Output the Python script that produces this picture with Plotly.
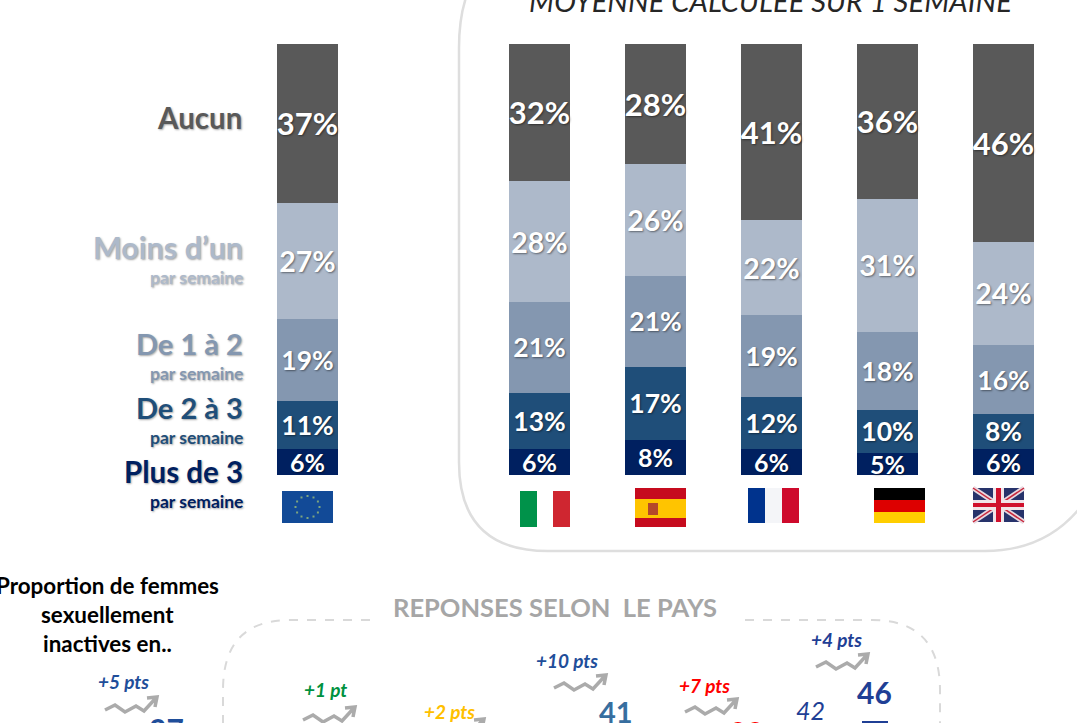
import math
import plotly.graph_objects as go

W, H = 1077, 723

categories = ["UE", " ", "Italie", "Espagne", "France", "Allemagne", "Royaume-Uni"]
bar_categories = ["UE", "Italie", "Espagne", "France", "Allemagne", "Royaume-Uni"]
plus_de_3 = [6, 6, 8, 6, 5, 6]
de_2_a_3 = [11, 13, 17, 12, 10, 8]
de_1_a_2 = [19, 21, 21, 19, 18, 16]
moins_dun = [27, 28, 26, 22, 31, 24]
aucun = [37, 32, 28, 41, 36, 46]

series = [
    ("Plus de 3", plus_de_3, "#002060", 25),
    ("De 2 à 3", de_2_a_3, "#1F4E79", 26.5),
    ("De 1 à 2", de_1_a_2, "#8497B0", 26.5),
    ("Moins d'un", moins_dun, "#ADB9CA", 28.5),
    ("Aucun", aucun, "#595959", 31),
]

SHADOW = "1px 1px 2px rgba(0,0,0,0.45)"
FONT = "Lato"

fig = go.Figure()
for name, vals, color, size in series:
    fig.add_trace(go.Bar(
        name=name, x=bar_categories, y=vals,
        marker=dict(color=color, line=dict(width=0)),
        text=[f"{v}%" for v in vals],
        textposition="inside", insidetextanchor="middle", textangle=0,
        constraintext="none",
        textfont=dict(family=FONT, size=size, color="white", weight="bold", shadow=SHADOW),
        hoverinfo="skip",
    ))


def px(x):
    return x / W


def py(y):
    return 1 - y / H


annotations = []


def label(text, x, y, size, color, bold=True, italic=False, anchor="center", shadow=None):
    annotations.append(dict(
        text=text, x=px(x), y=py(y), xref="paper", yref="paper",
        xanchor=anchor, yanchor="middle", showarrow=False,
        align=anchor if anchor != "center" else "center",
        font=dict(family=FONT, size=size, color=color,
                  weight="bold" if bold else "normal",
                  style="italic" if italic else "normal",
                  shadow=shadow or "none"),
    ))


shapes = []


def path(d, color, width=2, dash="solid"):
    shapes.append(dict(type="path", path=d, xref="paper", yref="paper",
                       line=dict(color=color, width=width, dash=dash), layer="below"))


def fmt(cmds):
    out = []
    for c in cmds:
        if isinstance(c, str):
            out.append(c)
        else:
            out.append(f"{px(c[0]):.5f},{py(c[1]):.5f}")
    return " ".join(out)


def rect(x0, y0, x1, y1, color):
    shapes.append(dict(type="rect", xref="paper", yref="paper",
                       x0=px(x0), x1=px(x1), y0=py(y1), y1=py(y0),
                       fillcolor=color, line=dict(width=0), layer="above"))


def seg(x0, y0, x1, y1, color, width):
    shapes.append(dict(type="line", xref="paper", yref="paper",
                       x0=px(x0), x1=px(x1), y0=py(y0), y1=py(y1),
                       line=dict(color=color, width=width), layer="above"))


# Rounded panels
path(fmt(["M", (468, -8), "Q", (459, 15), (459, 48), "L", (459, 462), "Q", (459, 551), (548, 551),
          "L", (985, 551), "Q", (1052, 551), (1088, 497)]), "#DEDEDE", 2.5)
path(fmt(["M", (370, 620), "L", (290, 620), "Q", (223, 620), (223, 690), "L", (223, 735)]),
     "#D9D9D9", 2, "dash")
path(fmt(["M", (745, 620), "L", (872, 620), "Q", (940, 620), (940, 690), "L", (940, 735)]),
     "#D9D9D9", 2, "dash")

# Left legend labels
LS = "1px 1px 2px rgba(0,0,0,0.35)"
label("Aucun", 244, 118, 29.5, "#595959", anchor="right", shadow=LS)
label("Moins d’un", 245, 247, 30.5, "#ADB9CA", anchor="right", shadow=LS)
label("par semaine", 245, 277, 17.5, "#ADB9CA", anchor="right", shadow=LS)
label("De 1 à 2", 245, 343, 29, "#8497B0", anchor="right", shadow=LS)
label("par semaine", 245, 373, 17.5, "#8497B0", anchor="right", shadow=LS)
label("De 2 à 3", 245, 407, 29, "#1F4E79", anchor="right", shadow=LS)
label("par semaine", 245, 437, 17.5, "#1F4E79", anchor="right", shadow=LS)
label("Plus de 3", 245, 471, 29.5, "#002060", anchor="right", shadow=LS)
label("par semaine", 245, 501, 17.5, "#002060", anchor="right", shadow=LS)

# Panel title
label("MOYENNE CALCULEE SUR 1 SEMAINE", 770, 0, 29.2, "#262626", bold=False, italic=True)

# Lower section texts
label("Proportion de femmes", 107, 585, 22.4, "#000000")
label("sexuellement", 107, 614, 22.4, "#000000")
label("inactives en..", 107, 643, 22.4, "#000000")
label("REPONSES SELON  LE PAYS", 555, 607, 25.5, "#A6A6A6")

BLUE = "#1F4E9A"
trend_labels = [("+5 pts", 123, 681, BLUE), ("+1 pt", 325, 689, "#00923F"), ("+2 pts", 449, 711, "#FFC000"),
                ("+10 pts", 567, 660, BLUE), ("+7 pts", 704, 685, "#FF0000"), ("+4 pts", 836, 639, "#1F3F95")]
for t, x, y, c in trend_labels:
    label(t, x, y, 19, c, italic=True)

label("27", 166, 729, 30, "#1F4E9A")
label("41", 616, 711, 29, "#376E9F")
label("46", 874, 692, 30, "#1F3F95")
label("42", 810, 710, 25, "#1F3F95", bold=False, italic=True)
label("38", 746, 732, 30, "#FF0000")
rect(862, 721, 888, 730, "#1F3F95")


# Trend arrows
def arrow(ox, oy):
    seg_pts = [(0, 0), (10, -5), (20, 2), (31, -4), (39, 1), (50, -11)]
    d = ["M", (ox, oy)] + [c for p in seg_pts[1:] for c in ("L", (ox + p[0], oy + p[1]))]
    d += ["M", (ox + 42, oy - 12), "L", (ox + 52, oy - 13), "L", (ox + 50, oy - 3)]
    shapes.append(dict(type="path", path=fmt(d), xref="paper", yref="paper",
                       line=dict(color="#ABABAB", width=3.5), layer="above"))


for ox, oy in [(105, 710), (303, 720), (554, 688), (685, 712), (816, 667), (432, 732)]:
    arrow(ox, oy)

# Flags
rect(282, 491, 333, 523, "#124A97")
for k in range(12):
    a = 2 * math.pi * k / 12
    cx, cy = 307.5 + 12 * math.cos(a), 507 + 11 * math.sin(a)
    rect(cx - 1, cy - 1, cx + 1, cy + 1, "#7FA67E")

rect(520, 491, 537, 527, "#00924A")
rect(553, 491, 570, 527, "#CF2630")

rect(635, 488, 686, 527, "#C60B1E")
rect(635, 499, 686, 518, "#FFC400")
rect(648, 503, 658, 515, "#B5482A")

rect(748, 488, 765, 523, "#00338D")
rect(765, 488, 782, 523, "#F4F5F8")
rect(782, 488, 799, 523, "#CE0A2C")

rect(874, 488, 925, 500, "#000000")
rect(874, 500, 925, 512, "#DD0000")
rect(874, 512, 925, 523, "#FFCE00")

rect(973, 488, 1024, 522, "#27336B")
seg(973, 488, 1024, 522, "#E8D8E0", 5)
seg(973, 522, 1024, 488, "#E8D8E0", 5)
seg(973, 488, 1024, 522, "#C8283C", 1.5)
seg(973, 522, 1024, 488, "#C8283C", 1.5)
rect(993, 488, 1004, 522, "#F0E4E8")
rect(973, 500, 1024, 510, "#F0E4E8")
rect(996, 488, 1001, 522, "#D0102C")
rect(973, 503, 1024, 507, "#D0102C")

# Axis scales: category spacing 116 px, first category at x=307; 100% = 431 px, base at y=474
x_step, x_first = 116.0, 307.5
y_scale, y_base = 4.31, 474.5

fig.update_layout(
    width=W, height=H, barmode="stack", bargap=1 - 61 / x_step,
    margin=dict(l=0, r=0, t=0, b=0), showlegend=False,
    paper_bgcolor="white", plot_bgcolor="rgba(0,0,0,0)",
    font=dict(family=FONT),
    xaxis=dict(type="category", categoryorder="array", categoryarray=categories,
               range=[-x_first / x_step, (W - x_first) / x_step], visible=False, fixedrange=True),
    yaxis=dict(range=[-(H - y_base) / y_scale, y_base / y_scale], visible=False, fixedrange=True),
    annotations=annotations, shapes=shapes,
)

fig.write_html("out.html", config={"displayModeBar": False},
               post_script="document.body.style.margin='0';document.body.style.overflow='hidden';")
